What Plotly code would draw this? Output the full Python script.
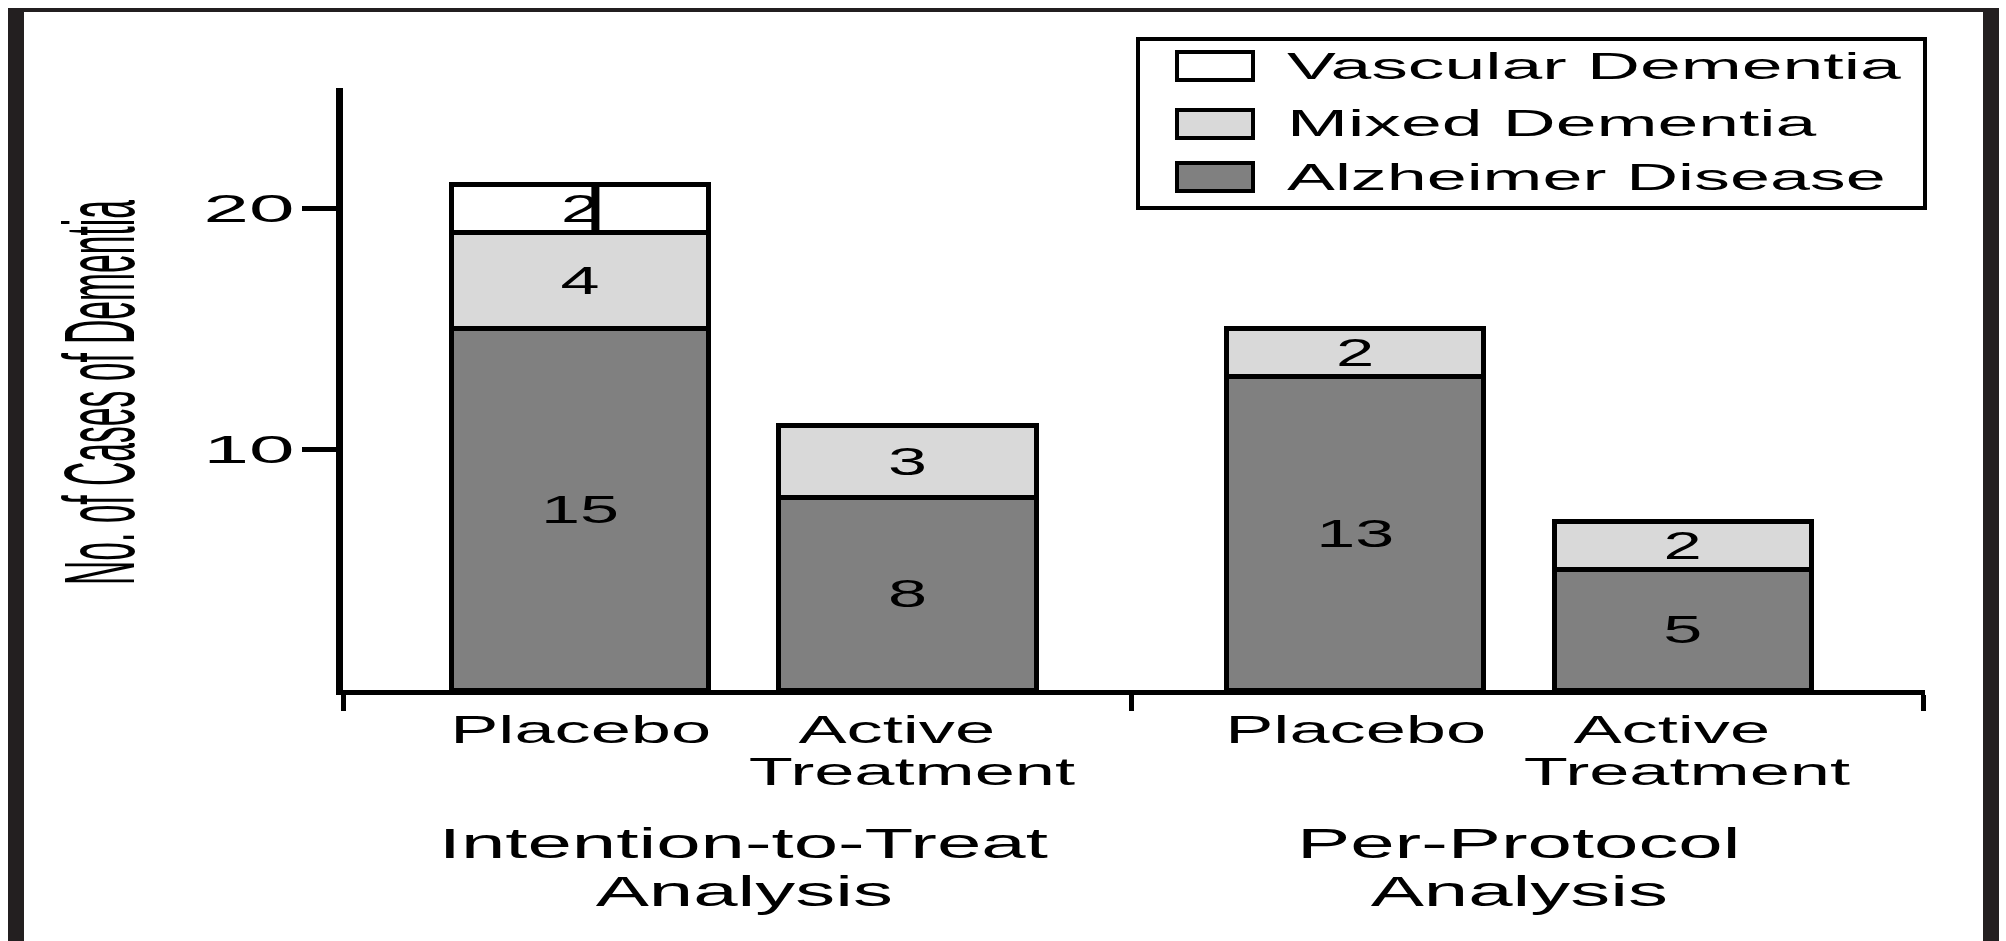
import json
import plotly.graph_objects as go

# ---------------- data ----------------
group_lines = [["Intention-to-Treat", "Analysis"], ["Per-Protocol", "Analysis"]]
arm_lines = [["Placebo"], ["Active", "Treatment"]]
series_names = ["Alzheimer Disease", "Mixed Dementia", "Vascular Dementia"]
alzheimer = [15, 8, 13, 5]
mixed = [4, 3, 2, 2]
vascular = [2, 0, 0, 0]
y_ticks = [10, 20]
y_title = "No. of Cases of Dementia"

# ---------------- styling / geometry ----------------
FONT = "Liberation Sans, Arial, Helvetica, sans-serif"
COLORS = {"Alzheimer Disease": "#808080", "Mixed Dementia": "#d9d9d9", "Vascular Dementia": "#ffffff"}
FRAME = "#231f20"
W, H = 2006, 941
ML, MR, MT, MB = 343, 81, 88, 251
PW, PH = W - ML - MR, H - MT - MB
UNIT = 327.5                      # pixels per x unit
XMAX = PW / UNIT
BAR_W = 0.785
FIRST = (580 - ML) / UNIT
GROUP_STEP = 2.367
LINE_XSHIFT = [[0], [-11, 4]]     # small typesetting offsets of the arm label lines


def px_x(px):
    return (px - ML) / PW


def px_y(py):
    return (H - MB - py) / PH


# bar positions (layout, computed)
xs = []
for g in range(len(group_lines)):
    for i in range(len(arm_lines)):
        xs.append(FIRST + g * GROUP_STEP + i)
sep = [0, (xs[1] + xs[2]) / 2, XMAX - 0.005]

fig = go.Figure()
for name, vals in zip(series_names, [alzheimer, mixed, vascular]):
    fig.add_trace(go.Bar(
        x=xs, y=[v if v else None for v in vals], name=name,
        width=BAR_W,
        marker=dict(color=COLORS[name], line=dict(color="black", width=5)),
        text=[str(v) if v else "" for v in vals],
        textposition="inside", insidetextanchor="middle", textangle=0,
        textfont=dict(family=FONT, size=39, color="black"),
        hoverinfo="skip", showlegend=False,
    ))

annotations = []
stretch = {}
left_texts = []
# category labels
for g in range(len(group_lines)):
    for i, lines in enumerate(arm_lines):
        for j, line in enumerate(lines):
            annotations.append(dict(
                x=xs[g * len(arm_lines) + i], xref="x", y=0, yref="paper",
                yanchor="middle", xanchor="center", yshift=-(40 + 42 * j),
                xshift=LINE_XSHIFT[i][j],
                text=line, showarrow=False,
                font=dict(family=FONT, size=38, color="black")))
            stretch[line] = 1.9
    # group labels
    gx = (xs[g * 2] + xs[g * 2 + 1]) / 2
    for j, line in enumerate(group_lines[g]):
        annotations.append(dict(
            x=gx, xref="x", y=0, yref="paper",
            yanchor="middle", xanchor="center", yshift=-(153 + 48 * j),
            text=line, showarrow=False,
            font=dict(family=FONT, size=42, color="black")))
        stretch[line] = 1.9

# y title
annotations.append(dict(
    x=px_x(99), xref="paper", y=px_y(393), yref="paper",
    xanchor="center", yanchor="middle", textangle=-90,
    text=y_title, showarrow=False,
    font=dict(family=FONT, size=100, color="black")))

for v in alzheimer + mixed + vascular:
    stretch[str(v)] = 1.8
for t in y_ticks:
    stretch[str(t)] = 2.15

# legend (manual, top to bottom: reverse stacking order)
shapes = []
shapes.append(dict(type="rect", xref="paper", yref="paper",
                   x0=px_x(1138), x1=px_x(1925), y0=px_y(39), y1=px_y(208),
                   line=dict(color="black", width=4), fillcolor="white", layer="above"))
row_y = [66, 124, 177]
legend_stretch = {"Vascular Dementia": 2.036, "Mixed Dementia": 2.035, "Alzheimer Disease": 1.995}
for name, ry in zip(series_names[::-1], row_y):
    shapes.append(dict(type="rect", xref="paper", yref="paper",
                       x0=px_x(1177), x1=px_x(1253), y0=px_y(ry - 14), y1=px_y(ry + 14),
                       line=dict(color="black", width=4), fillcolor=COLORS[name], layer="above"))
    annotations.append(dict(
        x=px_x(1285), xref="paper", y=px_y(ry), yref="paper",
        xanchor="left", yanchor="middle", text=name, showarrow=False,
        font=dict(family=FONT, size=36, color="black")))
    stretch[name] = legend_stretch[name]
    left_texts.append(name)

# stray vertical stroke printed next to the "2" label of the first stack in the original
base = alzheimer[0] + mixed[0]
shapes.append(dict(type="line", xref="x", yref="y",
                   x0=xs[0] + 0.047, x1=xs[0] + 0.047,
                   y0=base, y1=base + vascular[0] * 0.96,
                   line=dict(color="black", width=8)))

# outer frame
shapes.append(dict(type="rect", xref="paper", yref="paper", x0=px_x(8), x1=px_x(24),
                   y0=px_y(W), y1=px_y(8), line=dict(width=0), fillcolor=FRAME))
shapes.append(dict(type="rect", xref="paper", yref="paper", x0=px_x(1983), x1=px_x(1999),
                   y0=px_y(W), y1=px_y(8), line=dict(width=0), fillcolor=FRAME))
shapes.append(dict(type="rect", xref="paper", yref="paper", x0=px_x(8), x1=px_x(1999),
                   y0=px_y(12), y1=px_y(8), line=dict(width=0), fillcolor=FRAME))

fig.update_layout(
    width=W, height=H, barmode="stack",
    margin=dict(l=ML, r=MR, t=MT, b=MB, pad=0),
    paper_bgcolor="white", plot_bgcolor="white",
    font=dict(family=FONT, color="black"),
    annotations=annotations, shapes=shapes,
    xaxis=dict(range=[0, XMAX], tickvals=sep, showticklabels=False,
               ticks="outside", ticklen=16, tickwidth=5, tickcolor="black",
               showline=True, linewidth=5, linecolor="black",
               showgrid=False, zeroline=False, fixedrange=True),
    yaxis=dict(range=[0, 25], tickvals=y_ticks, ticktext=[str(t) for t in y_ticks],
               ticks="outside", ticklen=34, tickwidth=5, tickcolor="black",
               tickfont=dict(family=FONT, size=38, color="black"),
               showline=True, linewidth=7, linecolor="black",
               showgrid=False, zeroline=False, fixedrange=True),
)

# horizontally stretch/condense texts like the scanned original (glyphs stay real SVG text)
js = """
document.documentElement.style.margin = '0';
document.body.style.margin = '0';
document.body.style.overflow = 'hidden';
var F = %s;
var A = %s;
var LEFT = %s;
document.querySelectorAll('svg text').forEach(function(t){
  if (t.querySelector('tspan')) return;
  var s = t.textContent;
  var w = t.getComputedTextLength();
  var r = t.parentNode.querySelector('rect.bg');
  if (s in A) {
    var k = A[s] / w;
    var cx = parseFloat(t.getAttribute('x') || 0);
    var sc = ' translate(' + cx + ',0) scale(' + k + ',1) translate(' + (-cx) + ',0)';
    t.setAttribute('transform', (t.getAttribute('transform') || '') + sc);
    if (r) {
      var rx = parseFloat(r.getAttribute('x') || 0), rw = parseFloat(r.getAttribute('width') || 0);
      r.setAttribute('width', rw * k);
      r.setAttribute('x', cx + (rx - cx) * k);
    }
    return;
  }
  if (!(s in F)) return;
  var L = w * F[s];
  t.setAttribute('textLength', L);
  t.setAttribute('lengthAdjust', 'spacingAndGlyphs');
  var dx = 0;
  if (LEFT.indexOf(s) >= 0) {
    dx = (L - w) / 2;
    t.setAttribute('x', parseFloat(t.getAttribute('x') || 0) + dx);
  }
  if (r) {
    var rw2 = parseFloat(r.getAttribute('width') || 0);
    r.setAttribute('width', Math.max(1, rw2 + (L - w)));
    r.setAttribute('x', parseFloat(r.getAttribute('x') || 0) - (L - w) / 2 + dx);
  }
});
""" % (json.dumps(stretch), json.dumps({y_title: 385}), json.dumps(left_texts))

fig.write_html("out.html", post_script=js, config={"displayModeBar": False})
